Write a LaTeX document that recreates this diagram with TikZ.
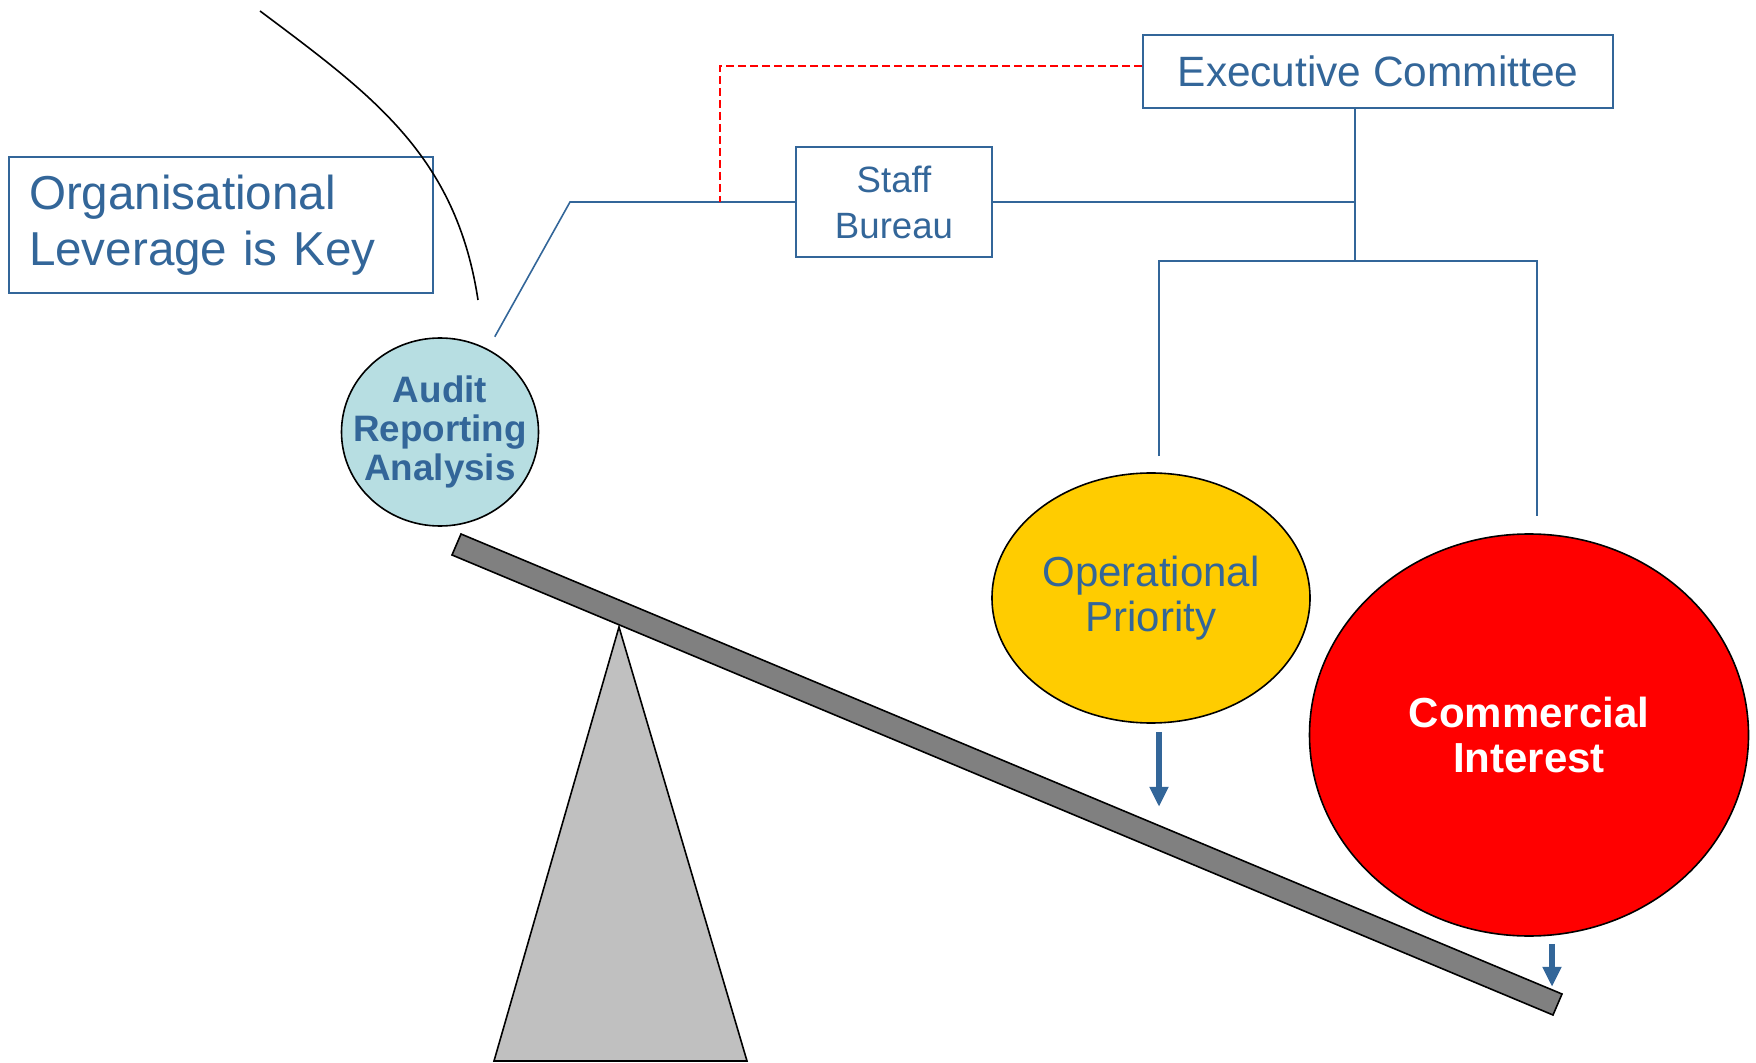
\documentclass[tikz,border=0pt]{standalone}
\usepackage{fontspec}
\setmainfont{Liberation Sans}
\usetikzlibrary{shapes.geometric,arrows.meta}
\definecolor{ink}{RGB}{51,102,153}
\definecolor{auditfill}{RGB}{183,222,226}
\definecolor{opfill}{RGB}{255,204,0}
\definecolor{beamgray}{RGB}{128,128,128}
\definecolor{pivotgray}{RGB}{192,192,192}
\begin{document}
\begin{tikzpicture}[x=0.5pt,y=-0.5pt,
        orgbox/.style={draw=ink,line width=1pt,text=ink,inner sep=0pt,align=center},
        orgline/.style={ink,line width=0.8pt},
        blob/.style={ellipse,draw=black,line width=0.8pt,inner sep=0pt,align=center},
        push/.style={ink,line width=3pt,-{Triangle[width=9pt,length=10pt]}}]
    \useasboundingbox (0,0) rectangle (1756,1063);
    % see-saw
    \draw[fill=pivotgray,line width=0.8pt] (619,627) -- (747,1061) -- (494,1061) -- cycle;
    \draw[fill=beamgray,line width=0.8pt] (461,534) -- (1562,994) -- (1553,1015) -- (452,555) -- cycle;
    % title and arc
    \node[orgbox,minimum width=212pt,minimum height=68pt,text width=192pt,inner xsep=10pt,align=left,
        font=\fontsize{23.8}{28}\selectfont] (lever) at (221,225) {Organisational\\Leverage is Key};
    \draw[line width=0.8pt] (260,11) .. controls (372,95) and (456,155) .. (478,300);
    % weights
    \node[blob,inner sep=-9pt,fill=auditfill,minimum width=98.5pt,minimum height=94pt,text=ink,
        font=\fontsize{18.4}{19.5}\selectfont\bfseries] (audit) at (440,432) {Audit\\Reporting\\Analysis};
    \node[blob,fill=opfill,minimum width=159pt,minimum height=125pt,text=ink,
        font=\fontsize{21}{22.5}\selectfont] (op) at (1151,598) {Operational\\Priority};
    \node[blob,fill=red,minimum width=219.5pt,minimum height=201pt,text=white,
        font=\fontsize{21}{22.5}\selectfont\bfseries] (ci) at (1529,735) {Commercial\\Interest};
    % organisation
    \node[orgbox,minimum width=235pt,minimum height=36.5pt,font=\fontsize{21.2}{24}\selectfont] (exec) at (1378,71.5) {Executive Committee};
    \node[orgbox,minimum width=98pt,minimum height=55pt,font=\fontsize{18.3}{23}\selectfont] (staff) at (894,202) {Staff\\Bureau};
    \coordinate (elbow) at (570,202);
    \coordinate (tap) at (720,202);
    \coordinate (tee) at (1355,202);
    \coordinate (hub) at (1355,261);
    \draw[orgline,shorten <=7pt] (audit.60) -- (elbow) -- (staff.west);
    \draw[orgline] (staff.east) -- (tee);
    \draw[orgline] (exec.south -| tee) -- (hub);
    \draw[orgline,shorten <=8pt,shorten >=8.5pt] ([xshift=4pt]op.north) |- (hub) -| ([xshift=4pt]ci.north);
    \draw[red,line width=0.8pt,dash pattern=on 4pt off 2pt] ([yshift=2.75pt]exec.west) -| (tap);
    % pressure
    \draw[push] ([xshift=4pt,yshift=-4pt]op.south) -- ++(0,75);
    \draw[push] ([xshift=11.5pt,yshift=-3.5pt]ci.south) -- ++(0,43);
\end{tikzpicture}
\end{document}
